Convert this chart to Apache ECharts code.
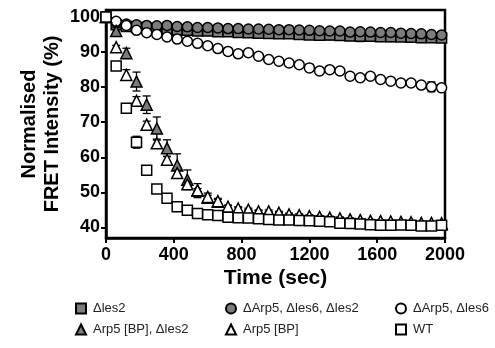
<!DOCTYPE html>
<html><head><meta charset="utf-8">
<script src="https://cdn.jsdelivr.net/npm/echarts@6/dist/echarts.min.js"></script>
<style>html,body{margin:0;padding:0;background:#fff}#c{width:495px;height:348px}</style>
</head><body><div id="c"></div>
<script>
const times = [0,60,120,180,240,300,360,420,480,540,600,660,720,780,840,900,960,1020,1080,1140,1200,1260,1320,1380,1440,1500,1560,1620,1680,1740,1800,1860,1920,1980];
const yTicks = [40,50,60,70,80,90,100];
const seriesNames = ["Δles2","ΔArp5, Δles6, Δles2","ΔArp5, Δles6","Arp5 [BP], Δles2","Arp5 [BP]","WT"];

const les2 = [100,97.8,97.3,97.0,96.8,96.6,96.5,96.3,96.2,96.0,96.0,95.8,95.8,95.6,95.5,95.4,95.3,95.2,95.2,95.0,94.9,94.8,94.9,94.7,94.6,94.5,94.5,94.4,94.4,94.3,94.2,94.1,94.1,94.0];
const les2Err = [0,0.6,0.8,0.8,1.0,0.8,1.0,0.9,1.1,1.0,0.9,1.0,1.2,1.0,1.1,1.0,1.2,1.0,1.1,1.3,1.0,1.2,1.4,1.1,1.3,1.5,1.0,1.2,1.4,1.1,1.2,1.0,1.1,1.0];

const arp5les6les2 = [100,98.5,98.0,97.8,97.6,97.5,97.6,97.3,97.2,97.0,97.0,96.9,96.7,96.7,96.6,96.6,96.5,96.4,96.4,96.3,96.2,96.1,96.0,96.0,95.7,95.8,95.7,95.6,95.6,95.4,95.3,95.2,95.0,94.9];
const arp5les6les2Err = [0,0.4,0.4,0.5,0.5,0.5,0.5,0.5,0.5,0.5,0.5,0.5,0.5,0.5,0.5,0.5,0.5,0.5,0.5,0.5,0.5,0.5,0.5,0.5,0.5,0.5,0.5,0.5,0.5,0.5,0.5,0.5,0.5,0.5];

const arp5les6 = [100,98.8,97.6,96.2,95.5,95.0,94.3,93.7,93.1,92.5,91.8,91.0,90.2,89.5,89.8,88.8,87.9,87.4,86.9,86.4,85.5,84.6,85.0,84.6,83.1,82.7,83.1,82.2,81.7,81.2,81.2,80.6,80.1,79.8];
const arp5les6Err = [0,0.4,0.4,0.5,0.5,0.5,0.5,0.5,0.5,0.5,0.5,0.5,1.0,0.9,0.5,0.5,0.5,0.5,0.5,0.5,1.0,0.5,0.5,0.5,0.5,0.5,0.5,0.5,0.5,0.5,0.5,0.5,1.4,0.5];

const bpLes2 = [100,96.0,89.7,81.6,75.0,68.2,62.6,57.7,53.6,50.5,48.5,47.3,45.4,45.0,44.6,44.3,44.0,43.8,43.4,43.2,42.9,42.7,42.5,42.3,42.1,41.9,41.7,41.6,41.4,41.3,41.2,41.1,41.0,40.9];
const bpLes2Err = [0,1.0,1.4,2.7,2.5,3.3,2.4,3.3,2.8,2.0,1.3,1.0,0.8,0.6,0.5,0.5,0.5,0.5,0.5,0.5,0.5,0.5,0.5,0.5,0.5,0.5,0.5,0.5,0.5,0.5,0.5,0.5,0.5,0.5];

const bp = [100,91.4,83.5,76.1,69.3,64.0,59.3,55.5,52.3,50.6,48.7,47.5,45.9,45.4,45.1,44.6,44.6,44.2,43.7,43.5,43.2,43.0,42.8,42.6,42.3,42.1,41.9,41.8,41.7,41.6,41.5,41.3,41.3,41.2];
const bpErr = [0,0.5,1.5,1.2,1.0,1.2,1.0,0.8,0.6,0.5,0.5,0.5,0.5,0.5,0.4,0.4,0.4,0.4,0.4,0.4,0.4,0.4,0.4,0.4,0.4,0.4,0.4,0.4,0.4,0.4,0.4,0.4,0.4,0.4];

const wt = [100,86.0,74.0,64.3,56.3,51.0,48.3,45.9,44.9,44.0,43.6,43.4,42.9,42.8,42.7,42.5,42.3,42.1,42.1,42.0,41.9,41.8,41.6,41.2,41.1,41.0,40.8,40.6,40.6,40.7,40.6,40.4,40.4,40.6];
const wtErr = [0,0.5,0.8,1.7,0.8,0.6,0.5,0.4,0.4,0.4,0.4,0.4,0.4,0.4,0.4,0.4,0.4,0.4,0.4,0.4,0.4,0.4,0.4,0.4,0.4,0.4,0.4,0.4,0.4,0.4,0.4,0.4,0.4,0.4];

const GREY = '#7c7c7c';
const groups = [
  {name: seriesNames[0], vals: les2, err: les2Err, symbol: 'rect', fill: GREY},
  {name: seriesNames[1], vals: arp5les6les2, err: arp5les6les2Err, symbol: 'circle', fill: GREY},
  {name: seriesNames[2], vals: arp5les6, err: arp5les6Err, symbol: 'circle', fill: '#fff'},
  {name: seriesNames[3], vals: bpLes2, err: bpLes2Err, symbol: 'triangle', fill: GREY},
  {name: seriesNames[4], vals: bp, err: bpErr, symbol: 'triangle', fill: '#fff'},
  {name: seriesNames[5], vals: wt, err: wtErr, symbol: 'rect', fill: '#fff'}
];

function renderErr(params, api) {
  const x = api.value(0), y = api.value(1), e = api.value(2);
  if (!e) return null;
  const top = api.coord([x, y + e]);
  const bot = api.coord([x, y - e]);
  const hw = 4;
  const st = {stroke: '#000', lineWidth: 1.3};
  return {type: 'group', children: [
    {type: 'line', shape: {x1: top[0], y1: top[1], x2: bot[0], y2: bot[1]}, style: st},
    {type: 'line', shape: {x1: top[0] - hw, y1: top[1], x2: top[0] + hw, y2: top[1]}, style: st},
    {type: 'line', shape: {x1: bot[0] - hw, y1: bot[1], x2: bot[0] + hw, y2: bot[1]}, style: st}
  ]};
}

const series = [];
groups.forEach((g, i) => {
  series.push({
    type: 'custom', silent: true, z: 2 + i * 2,
    renderItem: renderErr,
    encode: {x: 0, y: 1},
    data: times.map((t, k) => [t, g.vals[k], g.err[k]])
  });
  series.push({
    type: 'scatter', name: g.name, z: 3 + i * 2,
    symbol: g.symbol, symbolSize: g.symbol === 'triangle' ? 11 : 10,
    itemStyle: {color: g.fill, borderColor: '#000', borderWidth: 1.5, opacity: 1},
    data: times.map((t, k) => [t, g.vals[k]])
  });
});

const legendPos = [[75,302],[225,302],[395,302],[75,323],[225,323],[395,323]];
const legends = seriesNames.map((n, i) => ({
  data: [n], left: legendPos[i][0], top: legendPos[i][1], padding: 0,
  itemWidth: 10, itemHeight: 10, itemGap: 0, selectedMode: false,
  textStyle: {fontFamily: 'Liberation Sans, Arial, sans-serif', fontSize: 13, color: '#222', padding: [0,0,0,2]}
}));

const chart = echarts.init(document.getElementById('c'), null, {renderer: 'canvas'});
chart.setOption({
  animation: false,
  backgroundColor: '#fff',
  legend: legends,
  grid: {left: 106, right: 50, top: 10, bottom: 110, show: true, borderColor: '#000', borderWidth: 2.5, backgroundColor: 'transparent'},
  xAxis: {
    type: 'value', min: 0, max: 2000, interval: 400,
    name: 'Time (sec)', nameLocation: 'middle', nameGap: 30, nameMoveOverlap: false,
    nameTextStyle: {fontFamily: 'Liberation Sans, Arial, sans-serif', fontWeight: 'bold', fontSize: 21, color: '#000'},
    axisLine: {lineStyle: {color: '#000', width: 2.5}},
    axisTick: {show: true, length: 5, lineStyle: {color: '#000', width: 2}},
    axisLabel: {fontFamily: 'Liberation Sans, Arial, sans-serif', fontWeight: 'bold', fontSize: 18, color: '#000', margin: 8, formatter: v => String(v)},
    splitLine: {show: false}
  },
  yAxis: {
    type: 'value', min: 37, max: 102,
    name: 'Normalised\nFRET Intensity (%)', nameLocation: 'middle', nameGap: 42, nameRotate: 90, nameMoveOverlap: false,
    nameTextStyle: {fontFamily: 'Liberation Sans, Arial, sans-serif', fontWeight: 'bold', fontSize: 20, color: '#000', lineHeight: 23, align: 'center'},
    axisLine: {lineStyle: {color: '#000', width: 2.5}},
    axisTick: {show: true, length: 5, lineStyle: {color: '#000', width: 2}, customValues: yTicks},
    axisLabel: {fontFamily: 'Liberation Sans, Arial, sans-serif', fontWeight: 'bold', fontSize: 18, color: '#000', margin: 6, customValues: yTicks, formatter: v => String(v)},
    splitLine: {show: false}
  },
  series: series
});
</script></body></html>
